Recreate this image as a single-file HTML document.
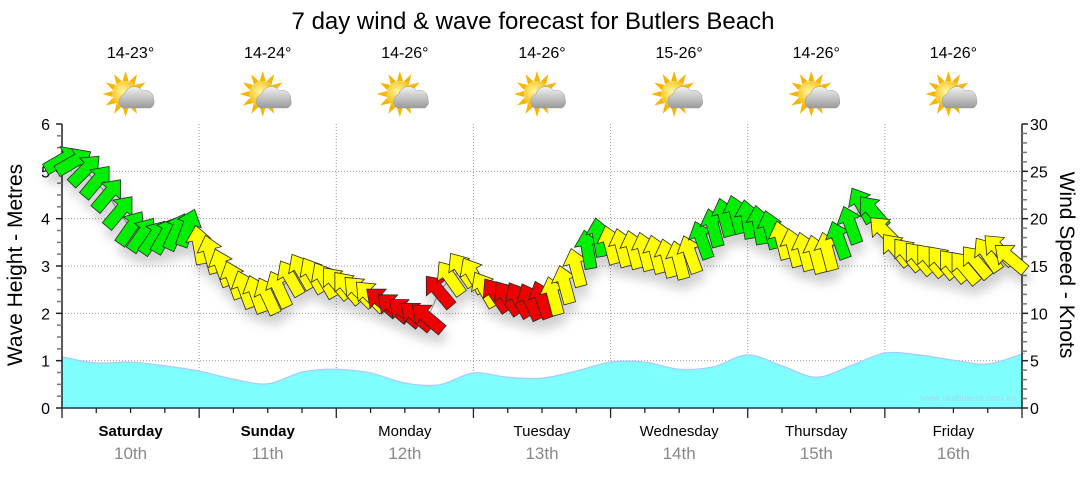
<!DOCTYPE html>
<html><head><meta charset="utf-8"><style>
body{margin:0;background:#fff;width:1080px;height:475px;overflow:hidden;font-family:"Liberation Sans","DejaVu Sans",sans-serif}
</style></head><body>
<svg id="chart" width="1080" height="475" viewBox="0 0 1080 475" xmlns="http://www.w3.org/2000/svg">
<defs>
<filter id="sh" x="-50%" y="-50%" width="200%" height="250%"><feDropShadow dx="2" dy="10" stdDeviation="5" flood-color="#000" flood-opacity="0.18"/></filter>
<radialGradient id="sunG" cx="0.4" cy="0.4" r="0.6"><stop offset="0" stop-color="#fff6a0"/><stop offset="1" stop-color="#f5b800"/></radialGradient>
<linearGradient id="cloudG" x1="0" y1="0" x2="0" y2="1"><stop offset="0" stop-color="#f2f2f2"/><stop offset="1" stop-color="#9a9a9a"/></linearGradient>
</defs>
<text x="533" y="29" font-size="24" text-anchor="middle" fill="#000">7 day wind &amp; wave forecast for Butlers Beach</text>
<g id="grid"></g>
<g id="wave"></g>
<g id="axes"></g>
<g id="wind"></g>
<g id="topg"></g>
<text transform="translate(22,265) rotate(-90)" font-size="21" text-anchor="middle">Wave Height - Metres</text>
<text transform="translate(1060,265) rotate(90)" font-size="21" text-anchor="middle">Wind Speed - Knots</text>
<text x="1016" y="401" font-size="9" text-anchor="end" fill="#9fd8e8">www.seabreeze.com.au</text>
</svg>
<script>
const days = ["Saturday","Sunday","Monday","Tuesday","Wednesday","Thursday","Friday"];
const dates = ["10th","11th","12th","13th","14th","15th","16th"];
const temps = ["14-23°","14-24°","14-26°","14-26°","15-26°","14-26°","14-26°"];
const waveTicks = [0,1,2,3,4,5,6];
const windTicks = [0,5,10,15,20,25,30];
// wave height (m), every 6 hours
const waveHeights = [1.08,0.95,0.97,0.89,0.78,0.61,0.51,0.76,0.82,0.74,0.53,0.49,0.74,0.65,0.63,0.78,0.97,0.97,0.82,0.87,1.12,0.89,0.65,0.89,1.16,1.12,1.01,0.93,1.14];
// wind speed (knots), every 2 hours
const windSpeeds = [
26.2,26.0,25.1,23.9,22.5,20.7,19.0,18.3,18.0,18.2,18.6,19.0,
17.2,16.2,14.8,13.5,12.5,12.0,11.8,12.5,13.7,14.4,14.0,13.5,
13.2,12.7,12.3,11.8,11.2,10.6,10.1,9.7,9.5,12.3,13.7,14.6,
14.0,12.5,11.9,11.6,11.4,11.2,11.4,11.8,13.0,14.8,16.7,18.0,
17.2,16.9,16.7,16.5,16.2,15.8,15.6,16.2,17.7,19.0,20.1,20.4,
19.9,19.3,18.8,17.7,16.9,16.5,16.2,16.5,17.7,19.3,21.4,20.7,
18.6,16.7,16.2,15.8,15.6,15.4,15.0,14.8,15.4,16.2,16.7,15.8];
// arrow direction (degrees clockwise from up)
const windDirs = [
60,60,45,40,40,40,35,35,35,30,25,20,
-10,-15,-20,-20,-20,-20,-25,-25,-30,-30,-30,-30,
-40,-40,-45,-45,-50,-50,-50,-50,-50,-40,-35,-35,
-30,-30,-35,-35,-30,-25,-20,-15,-15,-15,-10,-10,
-15,-15,-15,-15,-15,-15,-15,-20,-20,-15,-15,-15,
-10,-10,-15,-15,-15,-15,-15,-15,-20,-20,-30,-40,
-45,-40,-40,-40,-40,-40,-40,-40,-40,-35,-45,-50];
// color category: g=green, y=yellow, r=red
const windCols = [
"g","g","g","g","g","g","g","g","g","g","g","g",
"y","y","y","y","y","y","y","y","y","y","y","y",
"y","y","y","y","r","r","r","r","r","r","y","y",
"y","y","r","r","r","r","r","y","y","y","g","g",
"y","y","y","y","y","y","y","y","g","g","g","g",
"g","g","g","y","y","y","y","y","g","g","g","g",
"y","y","y","y","y","y","y","y","y","y","y","y"];

const NS="http://www.w3.org/2000/svg";
const X0=62,X1=1022,Y0=408,Y1=124,DAY=(X1-X0)/7;
const xDay=d=>X0+d*DAY;
const yWave=v=>Y0-(v/6)*(Y0-Y1);
const yWind=v=>Y0-(v/30)*(Y0-Y1);
function mk(tag,attrs,parent){const e=document.createElementNS(NS,tag);for(const k in attrs)e.setAttribute(k,attrs[k]);parent.appendChild(e);return e;}
const gridG=document.getElementById('grid'),axesG=document.getElementById('axes'),waveG=document.getElementById('wave'),windG=document.getElementById('wind'),topG=document.getElementById('topg');

waveTicks.forEach(t=>{if(t>0&&t<6){const l=mk('line',{x1:X0,x2:X1,y1:yWave(t),y2:yWave(t),stroke:'#999','stroke-dasharray':'1,2','stroke-width':1},gridG);

}});
for(let k=1;k<7;k++){const l=mk('line',{x1:xDay(k),x2:xDay(k),y1:Y1,y2:Y0,stroke:'#999','stroke-dasharray':'1,2','stroke-width':1},gridG);

}

const wpts=waveHeights.map((v,i)=>[X0+i*(DAY/4),yWave(v)]);
wpts.push([X1,wpts[wpts.length-1][1]]);
let pd=`M${X0},${Y0} L${wpts[0][0]},${wpts[0][1]}`;
for(let i=0;i<wpts.length-1;i++){const p0=wpts[Math.max(0,i-1)],p1=wpts[i],p2=wpts[i+1],p3=wpts[Math.min(wpts.length-1,i+2)];
const c1=[p1[0]+(p2[0]-p0[0])/6,p1[1]+(p2[1]-p0[1])/6],c2=[p2[0]-(p3[0]-p1[0])/6,p2[1]-(p3[1]-p1[1])/6];
pd+=` C${c1[0]},${c1[1]} ${c2[0]},${c2[1]} ${p2[0]},${p2[1]}`;}
pd+=` L${X1},${Y0} Z`;
const wa=mk('path',{d:pd,fill:'#80ffff',stroke:'#a8c8ff','stroke-width':1.2},waveG);



const ax=mk('line',{x1:X0,x2:X0,y1:Y1,y2:Y0,stroke:'#222','stroke-width':1.5},axesG);


const ax2=mk('line',{x1:X1,x2:X1,y1:Y1,y2:Y0,stroke:'#222','stroke-width':1.5},axesG);


const ax3=mk('line',{x1:X0,x2:X1,y1:Y0,y2:Y0,stroke:'#1a3a5a','stroke-width':1.5},axesG);


for(let i=0;i<=24;i++){const y=yWave(i/4);mk('line',{x1:X0-(i%4?5:6),x2:X0,y1:y,y2:y,stroke:i%4?'#777':'#222','stroke-width':1.5},axesG);}
waveTicks.forEach(t=>{const tx=mk('text',{x:50,y:yWave(t)+6,'font-size':16,'text-anchor':'end'},axesG);tx.textContent=t;

});
for(let i=0;i<=30;i++){const y=yWind(i);mk('line',{x1:X1,x2:X1+(i%5?5:6),y1:y,y2:y,stroke:i%5?'#777':'#222','stroke-width':1.5},axesG);}
windTicks.forEach(t=>{const tx=mk('text',{x:1030,y:yWind(t)+6,'font-size':16},axesG);tx.textContent=t;

});
for(let i=0;i<=28;i++){const x=X0+i*DAY/4;mk('line',{x1:x,x2:x,y1:Y0,y2:Y0+(i%4?5:10),stroke:'#222','stroke-width':1.3},axesG);}
days.forEach((n,i)=>{const cx=xDay(i)+DAY/2;
const t=mk('text',{x:cx,y:436,'font-size':15,'text-anchor':'middle','font-weight':i<2?'bold':'normal'},axesG);t.textContent=n;


const t2=mk('text',{x:cx,y:459,'font-size':17,'text-anchor':'middle',fill:'#888'},axesG);t2.textContent=dates[i];


const t3=mk('text',{x:cx,y:58,'font-size':16,'text-anchor':'middle'},topG);t3.textContent=temps[i];


const g=mk('g',{transform:`translate(${cx-5},94)`},topG);


for(let k=0;k<12;k++){const a=k*30;mk('path',{d:'M-3,-13 L0,-23 L3,-13 Z',fill:'#f7b500',transform:`rotate(${a})`},g);}
mk('circle',{cx:0,cy:0,r:13,fill:'url(#sunG)'},g);
mk('path',{d:'M-3,14 a8,8 0 0 1 2,-14 a10,10 0 0 1 18,-3 a8,8 0 0 1 11,8 a7,7 0 0 1 -3,9 Z',fill:'url(#cloudG)',stroke:'#999','stroke-width':0.5},g);
});

const step=DAY/12;
const wl=mk('polyline',{points:windSpeeds.map((v,i)=>`${X0+i*step},${yWind(v)}`).join(' '),fill:'none',stroke:'#999','stroke-width':1},windG);


const ag=mk('g',{filter:'url(#sh)'},windG);
const colMap={g:'#00ee00',y:'#ffff00',r:'#ee0000'};
windSpeeds.forEach((v,i)=>{
 const a=mk('path',{d:'M0,-20 L12.5,-5 L6,-5 L6,19 L-6,19 L-6,-5 L-12.5,-5 Z',fill:colMap[windCols[i]],stroke:'#2a2a2a','stroke-width':0.8,'stroke-linejoin':'miter',transform:`translate(${X0+i*step},${yWind(v)}) rotate(${windDirs[i]})`},ag);
 
 
});
</script>
</body></html>
